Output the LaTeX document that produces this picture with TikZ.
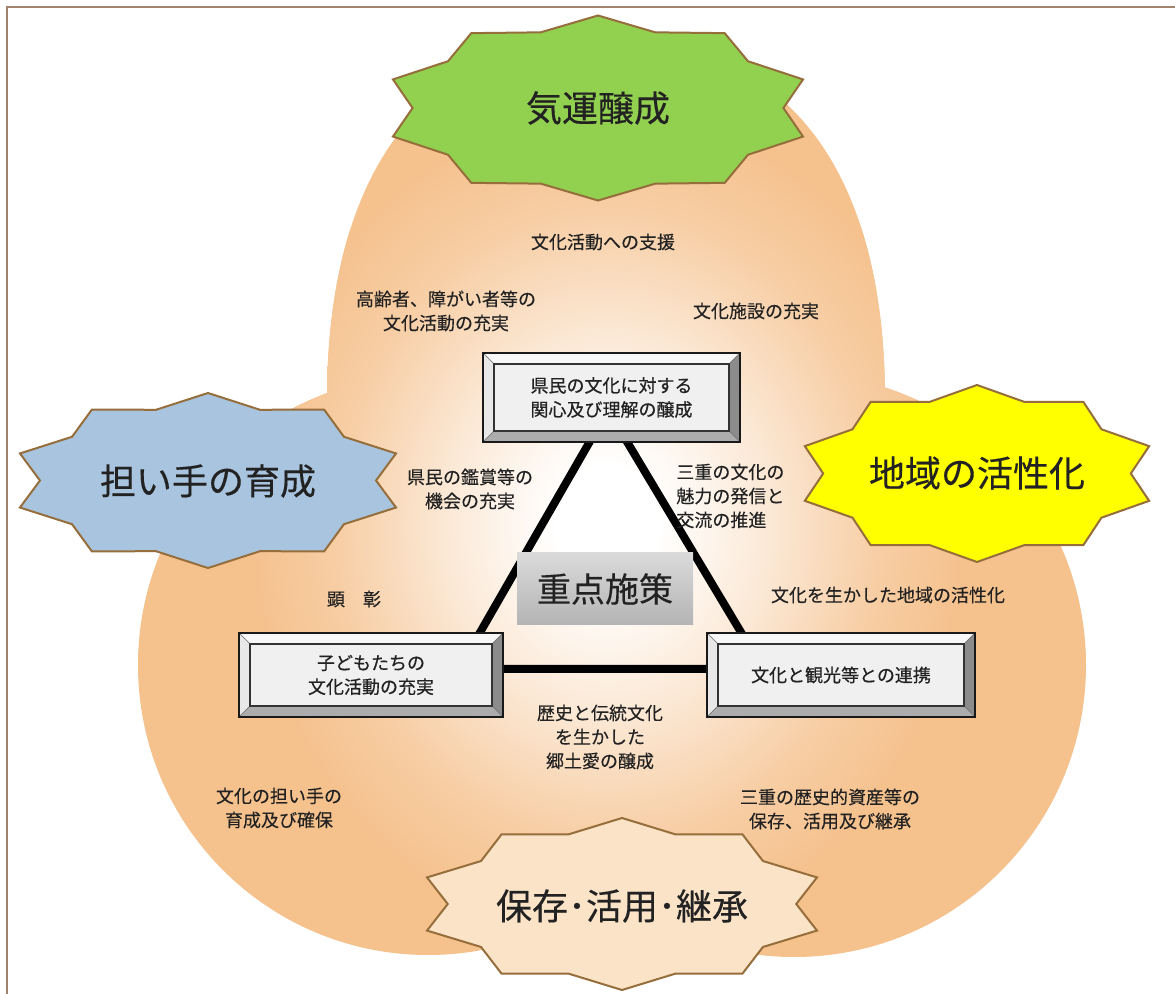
\documentclass[tikz,border=0pt]{standalone}
\usepackage{fontspec}
\newfontfamily\jp{Noto Sans CJK JP}[FakeBold=0.3]
\newfontfamily\jpb{Noto Sans CJK JP}[FakeBold=0.6]
\definecolor{peach}{RGB}{245,193,141}
\definecolor{framec}{RGB}{160,130,110}
\definecolor{starline}{RGB}{150,110,60}
\definecolor{sgreen}{RGB}{146,208,80}
\definecolor{sblue}{RGB}{168,196,222}
\definecolor{syellow}{RGB}{255,255,0}
\definecolor{speach}{RGB}{251,227,200}
\definecolor{bvtop}{RGB}{247,247,247}
\definecolor{bvleft}{RGB}{232,232,232}
\definecolor{bvright}{RGB}{140,140,140}
\definecolor{bvbot}{RGB}{172,172,172}
\definecolor{face}{RGB}{240,240,240}
\definecolor{ink}{RGB}{34,34,34}
\definecolor{jtop}{RGB}{218,218,218}
\definecolor{jbot}{RGB}{180,180,180}
\pgfdeclareradialshading{glow}{\pgfpointorigin}{color(0bp)=(white); color(3.5bp)=(white); color(11bp)=(peach!35!white); color(19bp)=(peach!80!white); color(25bp)=(peach); color(50bp)=(peach)}
\newcommand\tenstar[6]{\draw[#6] plot[domain=0:19, samples=20, variable=\q] ({#1+#3*cos(90+18*\q)*(1-(1-#5)*mod(round(\q),2))}, {#2-#4*sin(90+18*\q)*(1-(1-#5)*mod(round(\q),2))}) -- cycle;}
\newcommand\toplobe{(327,620) -- (327,400) .. controls (327,190) and (410,40) .. (606,40) .. controls (802,40) and (885,190) .. (885,400) -- (885,620) -- cycle}
\newcommand\leftlobe{(428,665) circle[radius=145pt]}
\newcommand\rightlobe{(794,665) circle[radius=146pt]}
\newcommand\glowpath{\shade[shading=glow] (607,525) ellipse[x radius=180pt, y radius=210pt];}
\tikzset{
  starstyle/.style={draw=starline, line width=1pt, line join=miter, fill=#1},
  bigtxt/.style={font=\jp\fontsize{18}{20}\selectfont, text=ink, inner sep=0pt},
  lbl/.style={font=\jp\fontsize{9}{12}\selectfont, text=ink, inner sep=0pt, align=center},
  bevelbox/.style={draw=black!90, line width=0.7pt, fill=face, inner sep=0pt, align=center,
    font=\jpb\fontsize{9}{12}\selectfont, text=ink,
    path picture={
      \path[fill=bvtop, draw=black!55, line width=0.3pt] (path picture bounding box.north west) -- (path picture bounding box.north east) -- ([xshift=-5.5pt,yshift=-5.5pt]path picture bounding box.north east) -- ([xshift=5.5pt,yshift=-5.5pt]path picture bounding box.north west) -- cycle;
      \path[fill=bvleft, draw=black!55, line width=0.3pt] (path picture bounding box.north west) -- (path picture bounding box.south west) -- ([xshift=5.5pt,yshift=5.5pt]path picture bounding box.south west) -- ([xshift=5.5pt,yshift=-5.5pt]path picture bounding box.north west) -- cycle;
      \path[fill=bvright, draw=black!55, line width=0.3pt] (path picture bounding box.north east) -- (path picture bounding box.south east) -- ([xshift=-5.5pt,yshift=5.5pt]path picture bounding box.south east) -- ([xshift=-5.5pt,yshift=-5.5pt]path picture bounding box.north east) -- cycle;
      \path[fill=bvbot, draw=black!55, line width=0.3pt] (path picture bounding box.south west) -- (path picture bounding box.south east) -- ([xshift=-5.5pt,yshift=5.5pt]path picture bounding box.south east) -- ([xshift=5.5pt,yshift=5.5pt]path picture bounding box.south west) -- cycle;
      \path[fill=face, draw=black!80, line width=0.6pt] ([xshift=5.5pt,yshift=-5.5pt]path picture bounding box.north west) rectangle ([xshift=-5.5pt,yshift=5.5pt]path picture bounding box.south east);
    }},
  jutenbox/.style={top color=jtop, bottom color=jbot, minimum width=88pt, minimum height=36pt, inner sep=0pt,
    font=\jp\fontsize{17}{19}\selectfont, text=ink},
  tri/.style={line width=4pt, line join=miter, draw=black}
}
\begin{document}
\begin{tikzpicture}[x=0.5pt,y=-0.5pt]
\useasboundingbox (0,0) rectangle (1175,994);
\fill[white] (0,0) rectangle (1175,994);
\draw[framec, line width=1pt] (7,994) -- (7,7) -- (1175,7);
% background lobes
\fill[peach] \toplobe;
\fill[peach] \leftlobe;
\fill[peach] \rightlobe;
\begin{scope}\clip \toplobe; \glowpath \end{scope}
\begin{scope}\clip \leftlobe; \glowpath \end{scope}
\begin{scope}\clip \rightlobe; \glowpath \end{scope}
% stars
\tenstar{598}{108}{215.6}{92.5}{0.86}{starstyle=sgreen}
\tenstar{208}{480.5}{197.7}{87.5}{0.85}{starstyle=sblue}
\tenstar{977}{473.5}{181}{88.5}{0.85}{starstyle=syellow}
\tenstar{622}{904}{205}{86}{0.85}{starstyle=speach}
\node[bigtxt] (kiun) at (598,108) {気運醸成};
\node[bigtxt] (ninai) at (208,481) {担い手の育成};
\node[bigtxt] (chiiki) at (977,473) {地域の活性化};
\node[bigtxt] (hozon) at (622,906) {保存･活用･継承};
% triangle
\coordinate (apex) at (608,410);
\coordinate (lfoot) at (459,669);
\coordinate (rfoot) at (763,669);
\draw[tri] (lfoot) -- (apex) -- (rfoot) -- cycle;
% boxes
\node[bevelbox, minimum width=128.5pt, minimum height=44.5pt] (kenmin) at (611.5,397.5) {県民の文化に対する\\関心及び理解の醸成};
\node[bevelbox, minimum width=132pt, minimum height=42pt] (kodomo) at (371,675) {子どもたちの\\文化活動の充実};
\node[bevelbox, minimum width=134pt, minimum height=42pt] (kanko) at (841,675) {文化と観光等との連携};
\node[jutenbox] (juten) at (605,589) {重点施策};
% labels
\node[lbl] (shien) at (603,242) {文化活動への支援};
\node[lbl] (koreisha) at (446,311) {高齢者、障がい者等の\\文化活動の充実};
\node[lbl] (shisetsu) at (756,311) {文化施設の充実};
\node[lbl] (kansho) at (470,489) {県民の鑑賞等の\\機会の充実};
\node[lbl, align=left, anchor=west] (miryoku) at (676,496) {三重の文化の\\魅力の発信と\\交流の推進};
\node[lbl] (kensho) at (354,599) {顕　彰};
\node[lbl] (ikashita) at (888,595) {文化を生かした地域の活性化};
\node[lbl] (rekishi) at (600,737) {歴史と伝統文化\\を生かした\\郷土愛の醸成};
\node[lbl] (ninaite) at (279,808) {文化の担い手の\\育成及び確保};
\node[lbl] (shisan) at (830,809) {三重の歴史的資産等の\\保存、活用及び継承};
\end{tikzpicture}
\end{document}
